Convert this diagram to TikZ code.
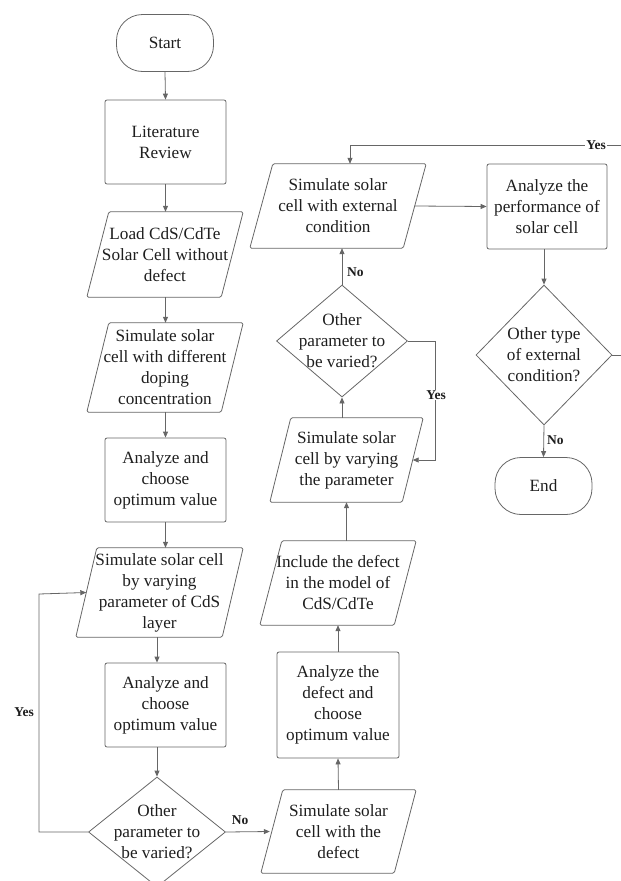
\documentclass[tikz,border=0pt]{standalone}
\usepackage{fontspec}
\setmainfont{Liberation Serif}
\usetikzlibrary{arrows.meta,shapes.geometric}
\definecolor{ln}{HTML}{666666}
\definecolor{txt}{HTML}{1E1E1E}
\newcommand{\parashape}[2]{\draw[shp] ([xshift=#2pt]#1.north west) -- (#1.north east) -- ([xshift=-#2pt]#1.south east) -- (#1.south west) -- cycle;}
\tikzset{
  base/.style={font=\fontsize{17.2}{21}\selectfont, text=txt, align=center},
  term/.style={base, draw=ln, line width=0.8pt, rounded corners=26pt, minimum width=97pt, minimum height=57pt, inner sep=0pt},
  box/.style={base, draw=ln, line width=0.8pt, rounded corners=2pt, inner sep=0pt},
  pnode/.style={base, inner sep=0pt},
  shp/.style={draw=ln, line width=0.8pt, rounded corners=1.5pt},
  dia/.style={diamond, draw=ln, line width=0.8pt, inner sep=0pt},
  arr/.style={draw=ln, line width=0.8pt, -{Triangle[length=6pt,width=5pt]}},
  lbl/.style={font=\bfseries\fontsize{13.5}{16}\selectfont, text=txt, inner sep=1pt}
}
\begin{document}
\begin{tikzpicture}[x=1pt,y=-1pt]
\useasboundingbox (0,0) rectangle (621,881);
\clip (0,0) rectangle (621,881);
% left column
\node[term] (start) at (165,43) {Start};
\node[box, minimum width=121pt, minimum height=84pt] (lit) at (165.5,142) {Literature\\Review};
\node[pnode, minimum width=156pt, minimum height=85pt] (load) at (165,254.5) {Load CdS/CdTe\\Solar Cell without\\defect};
\parashape{load}{22}
\node[pnode, minimum width=156pt, minimum height=89pt] (dop) at (165,367.5) {Simulate solar\\cell with different\\doping\\concentration};
\parashape{dop}{22}
\node[box, minimum width=121pt, minimum height=84pt] (an1) at (165.5,480) {Analyze and\\choose\\optimum value};
\node[pnode, minimum width=167pt, minimum height=89pt] (cds) at (159.5,592.5) {Simulate solar cell\\by varying\\parameter of CdS\\layer};
\parashape{cds}{21}
\node[box, minimum width=121pt, minimum height=84pt] (an2) at (165.5,705) {Analyze and\\choose\\optimum value};
\node[dia, minimum width=137pt, minimum height=110pt] (d1) at (157,832) {};
\node[base] (d1t) at (d1.center) {Other\\parameter to\\be varied?};
% middle column
\node[pnode, minimum width=176pt, minimum height=84pt] (ext) at (338,206) {Simulate solar\\cell with external\\condition};
\parashape{ext}{23}
\node[dia, minimum width=131pt, minimum height=112pt] (d2) at (342,341) {};
\node[base] (d2t) at (d2.center) {Other\\parameter to\\be varied?};
\node[pnode, minimum width=153pt, minimum height=84pt] (vary) at (346.5,460) {Simulate solar\\cell by varying\\the parameter};
\parashape{vary}{21}
\node[pnode, minimum width=156pt, minimum height=84pt] (inc) at (338,583) {Include the defect\\in the model of\\CdS/CdTe};
\parashape{inc}{22}
\node[box, minimum width=122pt, minimum height=106pt] (an3) at (338,705) {Analyze the\\defect and\\choose\\optimum value};
\node[pnode, minimum width=155pt, minimum height=83pt] (def) at (338.5,831.5) {Simulate solar\\cell with the\\defect};
\parashape{def}{22}
% right column
\node[box, minimum width=120pt, minimum height=85pt] (perf) at (547,206.5) {Analyze the\\performance of\\solar cell};
\node[dia, minimum width=136pt, minimum height=140pt] (d3) at (544,355) {};
\node[base] (d3t) at (d3.center) {Other type\\of external\\condition?};
\node[term] (end) at (543.5,486) {End};
% helper coordinates
\coordinate (yl) at (39,594);
\coordinate (yr) at (435,341);
\coordinate (yt) at (625,145);
% connectors left
\draw[arr] (start.south) -- (lit.north);
\draw[arr] (lit.south) -- (lit.south |- load.north);
\draw[arr] (lit.south |- load.south) -- (lit.south |- dop.north);
\draw[arr] (lit.south |- dop.south) -- (an1.north);
\draw[arr] (an1.south) -- (an1.south |- cds.north);
\draw[arr] (d1.north |- cds.south) -- (d1.north |- an2.north);
\draw[arr] (d1.north |- an2.south) -- (d1.north);
\draw[arr] (d1.west) -| (yl) -- ([xshift=10.5pt]cds.west);
\node[lbl] (yes1) at (24,712) {Yes};
\draw[arr] (d1.east) -- ([xshift=9pt]def.west);
\node[lbl] (no1) at (240,820) {No};
% connectors middle
\draw[arr] (def.north) -- (an3.south);
\draw[arr] (an3.north) -- (an3.north |- inc.south);
\draw[arr] (vary.south |- inc.north) -- (vary.south);
\draw[arr] (d2.south |- vary.north) -- (d2.south);
\draw[arr] (d2.east) -- (yr) |- ([xshift=-10.5pt]vary.east);
\node[lbl, fill=white] (yes2) at (436,395) {Yes};
\draw[arr] (d2.north) -- (d2.north |- ext.south);
\node[lbl, anchor=west] (no2) at (346,272) {No};
\draw[arr] ([xshift=-11.5pt]ext.east) -- (perf.west);
% connectors right
\draw[arr] (d3.north |- perf.south) -- (d3.north);
\draw[arr] (d3.south) -- (end.north);
\node[lbl, anchor=west] (no3) at (546,440) {No};
\draw[arr] (d3.east) -| (yt) -| ([xshift=12pt]ext.north);
\node[lbl, fill=white] (yes3) at (596,145) {Yes};
\end{tikzpicture}
\end{document}
